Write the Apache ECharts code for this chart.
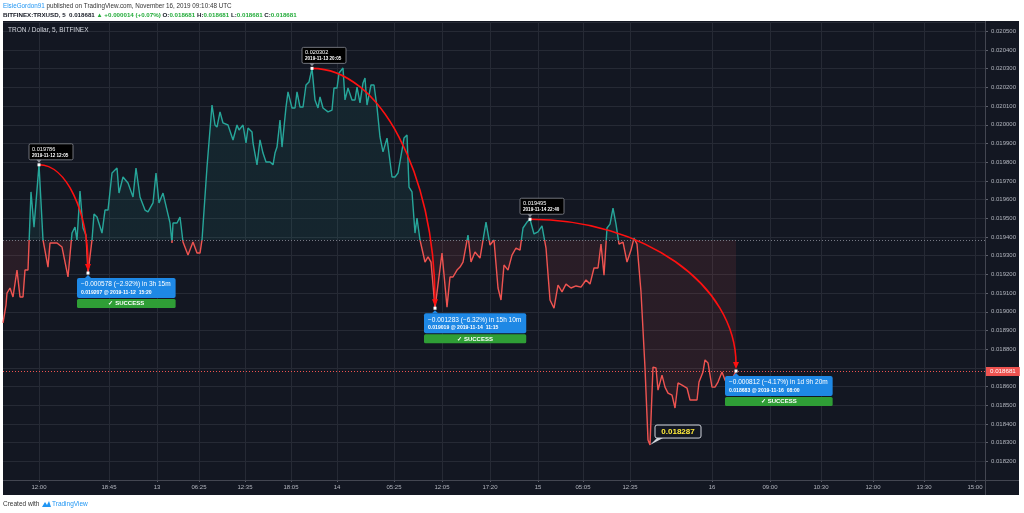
<!DOCTYPE html>
<html><head><meta charset="utf-8">
<script src="https://cdn.jsdelivr.net/npm/echarts@6/dist/echarts.min.js"></script>
<style>html,body{margin:0;padding:0;background:#fff}#c{width:1024px;height:513px}</style>
</head><body><div id="c"></div>
<script>
// ---- data (bar index on the 5-minute axis, price in USD) ----
const barIndex = [0,3,4,7,10,12,14,17,20,22,25,28,31,36,40,45,47,54,59,65,69,72,74,77,80,83,85,89,91,94,99,102,105,109,114,116,120,125,130,133,137,142,145,150,153,156,160,164,167,169,170,174,177,180,185,190,194,197,199,204,209,212,214,217,220,225,230,234,236,240,243,245,249,250,254,257,260,263,267,270,272,274,277,279,283,285,289,292,294,297,300,303,306,309,312,315,317,320,325,329,331,334,336,340,342,345,349,352,354,357,360,362,364,368,371,374,377,380,384,389,392,395,399,401,404,406,409,412,414,417,422,425,428,432,439,444,447,450,454,457,460,465,468,472,477,483,487,491,495,498,501,505,509,513,517,520,524,527,531,535,539,543,547,551,555,559,563,568,573,578,583,587,591,595,598,601,604,607,610,613,616,620,624,628,631,634,638,642,645,647,650,653,655,659,662,665,669,672,675,679,684,687,694,696,700,702,705,709,712,715,719,722,727,730,733];
const price = [0.018940,0.019036,0.019100,0.019127,0.019079,0.019079,0.019223,0.019079,0.019079,0.019223,0.019223,0.019641,0.019453,0.019786,0.019384,0.019239,0.019368,0.019368,0.019346,0.019186,0.019421,0.019453,0.019384,0.019646,0.019448,0.019410,0.019207,0.019384,0.019523,0.019507,0.019421,0.019544,0.019544,0.019742,0.019769,0.019635,0.019721,0.019689,0.019614,0.019769,0.019614,0.019544,0.019534,0.019582,0.019742,0.019582,0.019635,0.019544,0.019475,0.019368,0.019475,0.019475,0.019507,0.019373,0.019303,0.019373,0.019314,0.019314,0.019384,0.019774,0.020106,0.019999,0.019988,0.020069,0.020010,0.019999,0.019919,0.019999,0.019972,0.019999,0.019903,0.019983,0.019962,0.019903,0.019786,0.019919,0.019849,0.019801,0.019801,0.019786,0.019849,0.019881,0.020026,0.019881,0.020095,0.020176,0.020090,0.020090,0.020176,0.020095,0.020095,0.020213,0.020229,0.020302,0.020133,0.020090,0.020149,0.020090,0.020069,0.020079,0.020197,0.020197,0.020277,0.020304,0.020133,0.020197,0.020133,0.020133,0.020202,0.020117,0.020224,0.020250,0.020106,0.020213,0.020213,0.020095,0.019935,0.019855,0.019929,0.019721,0.019721,0.019742,0.019865,0.019929,0.019945,0.019667,0.019641,0.019421,0.019501,0.019384,0.019266,0.019293,0.019266,0.019019,0.019314,0.019025,0.019186,0.019186,0.019223,0.019239,0.019266,0.019410,0.019266,0.019320,0.019287,0.019480,0.019357,0.019384,0.019127,0.019063,0.019250,0.019223,0.019303,0.019341,0.019330,0.019448,0.019480,0.019495,0.019416,0.019427,0.019459,0.019341,0.019063,0.019019,0.019143,0.019106,0.019148,0.019127,0.019138,0.019132,0.019170,0.019148,0.019234,0.019234,0.019362,0.019196,0.019448,0.019469,0.019555,0.019469,0.019362,0.019373,0.019266,0.019330,0.019394,0.019362,0.019106,0.018699,0.018314,0.018287,0.018704,0.018699,0.018581,0.018661,0.018597,0.018565,0.018554,0.018485,0.018619,0.018608,0.018592,0.018528,0.018528,0.018624,0.018678,0.018742,0.018726,0.018597,0.018597,0.018624,0.018678,0.018635,0.018597,0.018651,0.018683];
const tickIndex = [36,106,154,196,242,288,334,391,439,487,535,580,627,709,767,818,870,921,972];
const tickLabels = ['12:00','18:45','13','06:25','12:35','18:05','14','05:25','12:05','17:20','15','05:05','12:35','16','09:00','10:30','12:00','13:30','15:00'];
const BAR_COUNT = 983;
const BASELINE = 0.019385;
const LAST = 0.018681;
// forecast drawings
const fcStartIdx = [36, 309, 527];
const fcStartPrice = [0.019786, 0.020302, 0.019495];
const fcStartTime = ['2019-11-12 12:05', '2019-11-13 20:05', '2019-11-14 22:40'];
const fcEndIdx = [85, 432, 733];
const fcEndPrice = [0.019207, 0.019019, 0.018683];
const fcEndTime = ['2019-11-12  15:20', '2019-11-14  11:15', '2019-11-16  08:00'];
const fcChange = ['\u22120.000578 (\u22122.92%) in 3h 15m', '\u22120.001283 (\u22126.32%) in 15h 10m', '\u22120.000812 (\u22124.17%) in 1d 9h 20m'];
const lowIdx = 647, lowPrice = 0.018287;

// ---- styling ----
const FONT = "'Liberation Sans', Arial, sans-serif";
const BG = '#131722', GRID = '#262a35', AXIS_TXT = '#b2b5be', BORDER = '#434651';
const UP = '#26a69a', DOWN = '#ef5350';
const Y_MIN = 0.0181, Y_MAX = 0.02055;

const cats = new Array(BAR_COUNT).fill('');
tickIndex.forEach((t, i) => cats[t] = tickLabels[i]);
const tickSet = new Set(tickIndex);
const lineData = barIndex.map((b, i) => [b, price[i]]);

const mctx = document.createElement('canvas').getContext('2d');
function tw(txt, font) { mctx.font = font; return mctx.measureText(txt).width; }

function renderForecast(params, api) {
  const i = params.dataIndex;
  const p0 = api.coord([fcStartIdx[i], fcStartPrice[i]]);
  const p1 = api.coord([fcEndIdx[i], fcEndPrice[i]]);
  const k = 0.55;
  const ch = [];
  ch.push({type: 'bezierCurve', shape: {x1: p0[0], y1: p0[1], x2: p1[0], y2: p1[1] - 7,
    cpx1: p0[0] + k * (p1[0] - p0[0]), cpy1: p0[1], cpx2: p1[0], cpy2: p1[1] - 7 - k * (p1[1] - 7 - p0[1])},
    style: {stroke: '#ff1010', lineWidth: 1.6, fill: null}});
  ch.push({type: 'polygon', shape: {points: [[p1[0] - 3, p1[1] - 9], [p1[0] + 3, p1[1] - 9], [p1[0], p1[1] - 2]]}, style: {fill: '#ff1010'}});
  const sx = p0[0] - 10, sy = p0[1] - 21;
  ch.push({type: 'rect', shape: {x: sx, y: sy, width: 44, height: 16, r: 1.5}, style: {fill: '#000000', stroke: '#8a8d96', lineWidth: 0.8}});
  ch.push({type: 'polygon', shape: {points: [[p0[0] - 2.5, sy + 16], [p0[0] + 2.5, sy + 16], [p0[0], sy + 19]]}, style: {fill: '#8a8d96'}});
  ch.push({type: 'text', style: {text: fcStartPrice[i].toFixed(6), x: sx + 3, y: sy + 5.5, fill: '#ffffff', font: '5.6px ' + FONT, textVerticalAlign: 'middle'}});
  ch.push({type: 'text', style: {text: fcStartTime[i], x: sx + 3, y: sy + 11.5, fill: '#ffffff', font: 'bold 4.6px ' + FONT, textVerticalAlign: 'middle'}});
  const f1 = '6.5px ' + FONT, f2 = 'bold 5.1px ' + FONT;
  const line2 = fcEndPrice[i].toFixed(6) + ' @ ' + fcEndTime[i];
  const w = Math.max(tw(fcChange[i], f1), tw(line2, f2)) + 9;
  const bx = p1[0] - 11, by = p1[1] + 5;
  ch.push({type: 'rect', shape: {x: bx, y: by, width: w, height: 20, r: 2}, style: {fill: '#1e88e5'}});
  ch.push({type: 'polygon', shape: {points: [[p1[0] - 3, by], [p1[0] + 3, by], [p1[0], by - 3]]}, style: {fill: '#1e88e5'}});
  ch.push({type: 'text', style: {text: fcChange[i], x: bx + 4, y: by + 6.5, fill: '#ffffff', font: f1, textVerticalAlign: 'middle'}});
  ch.push({type: 'text', style: {text: line2, x: bx + 4, y: by + 14.5, fill: '#ffffff', font: f2, textVerticalAlign: 'middle'}});
  ch.push({type: 'rect', shape: {x: bx, y: by + 21, width: w, height: 9, r: 1.5}, style: {fill: '#2f9e36'}});
  ch.push({type: 'text', style: {text: '\u2713 SUCCESS', x: bx + w / 2, y: by + 25.7, fill: '#ffffff', font: 'bold 6px ' + FONT, textAlign: 'center', textVerticalAlign: 'middle'}});
  ch.push({type: 'rect', shape: {x: p0[0] - 1.5, y: p0[1] - 1.5, width: 3, height: 3}, style: {fill: '#ffffff'}});
  ch.push({type: 'rect', shape: {x: p1[0] - 1.5, y: p1[1] - 1.5, width: 3, height: 3}, style: {fill: '#ffffff'}});
  return {type: 'group', children: ch};
}

function renderLow(params, api) {
  const p = api.coord([lowIdx, lowPrice]);
  const bx = p[0] + 5, by = p[1] - 20;
  return {type: 'group', children: [
    {type: 'polygon', shape: {points: [[p[0], p[1]], [bx + 2, by + 13], [bx + 8, by + 13]]}, style: {fill: '#d1d4dc'}},
    {type: 'rect', shape: {x: bx, y: by, width: 46, height: 13, r: 2}, style: {fill: '#131722', stroke: '#d1d4dc', lineWidth: 1}},
    {type: 'text', style: {text: lowPrice.toFixed(6), x: bx + 23, y: by + 6.8, fill: '#ffeb3b', font: 'bold 8px ' + FONT, textAlign: 'center', textVerticalAlign: 'middle'}}
  ]};
}

const chart = echarts.init(document.getElementById('c'), null, {renderer: 'canvas'});
chart.setOption({
  backgroundColor: '#ffffff',
  animation: false,
  grid: {left: 3, right: 39, top: 22, bottom: 33, containLabel: false},
  graphic: [
    {type: 'rect', z: -10, shape: {x: 3, y: 21, width: 1016, height: 474}, style: {fill: BG}},
    {type: 'line', z: 5, shape: {x1: 985.5, y1: 21, x2: 985.5, y2: 495}, style: {stroke: BORDER, lineWidth: 1}},
    {type: 'line', z: 5, shape: {x1: 3, y1: 480.5, x2: 1019, y2: 480.5}, style: {stroke: BORDER, lineWidth: 1}},
    {type: 'text', x: 8, y: 30, z: 6, style: {text: 'TRON / Dollar, 5, BITFINEX', fill: '#d1d4dc', font: '6.5px ' + FONT, textVerticalAlign: 'middle'}},
    {type: 'text', x: 3, y: 6, style: {text: '{a|ElsieGordon91}{b| published on TradingView.com, November 16, 2019 09:10:48 UTC}', textVerticalAlign: 'middle',
      rich: {a: {fill: '#2196f3', fontSize: 6.3, fontFamily: FONT}, b: {fill: '#333333', fontSize: 6.3, fontFamily: FONT}}}},
    {type: 'text', x: 3, y: 15, style: {text: '{k|BITFINEX:TRXUSD, 5  0.018681 }{g|\u25B2 +0.000014 (+0.07%)}{k| O:}{g|0.018681}{k| H:}{g|0.018681}{k| L:}{g|0.018681}{k| C:}{g|0.018681}', textVerticalAlign: 'middle',
      rich: {k: {fill: '#131722', fontSize: 6.2, fontWeight: 'bold', fontFamily: FONT}, g: {fill: '#22ab39', fontSize: 6.2, fontWeight: 'bold', fontFamily: FONT}}}},
    {type: 'text', x: 3, y: 504, style: {text: 'Created with', fill: '#333333', font: '6.5px ' + FONT, textVerticalAlign: 'middle'}},
    {type: 'text', x: 52, y: 504, style: {text: 'TradingView', fill: '#2196f3', font: '6.5px ' + FONT, textVerticalAlign: 'middle'}},
    {type: 'polygon', shape: {points: [[42, 507], [45, 502], [47, 505], [49, 501], [51, 507]]}, style: {fill: '#2196f3'}}
  ],
  xAxis: {
    type: 'category', data: cats, boundaryGap: false,
    axisLine: {show: false},
    axisTick: {show: true, interval: (i) => tickSet.has(i), length: 2, lineStyle: {color: '#5d606b'}},
    axisLabel: {interval: (i) => tickSet.has(i), color: AXIS_TXT, fontSize: 6, fontFamily: FONT, margin: 4},
    splitLine: {show: true, interval: (i) => tickSet.has(i), lineStyle: {color: GRID, width: 1}}
  },
  yAxis: {
    type: 'value', position: 'right', min: Y_MIN, max: Y_MAX, interval: 0.0001,
    axisLine: {show: false},
    axisTick: {show: true, length: 3, lineStyle: {color: '#5d606b'}},
    axisLabel: {color: AXIS_TXT, fontSize: 6, fontFamily: FONT, margin: 6, showMaxLabel: false, showMinLabel: false,
      formatter: (v) => Math.abs(v - LAST) < 0.00004 ? '' : v.toFixed(6)},
    splitLine: {show: true, lineStyle: {color: GRID, width: 1}}
  },
  visualMap: {type: 'piecewise', show: false, dimension: 1, seriesIndex: 0,
    pieces: [{gte: 0.015, lt: BASELINE, color: DOWN}, {gte: BASELINE, lte: 0.025, color: UP}]},
  series: [
    {type: 'line', data: lineData, symbol: 'none', lineStyle: {width: 1.4}, z: 3,
      areaStyle: {origin: BASELINE, opacity: 0.1}},
    {type: 'line', data: [], symbol: 'none', silent: true, color: '#787b86',
      markLine: {symbol: 'none', silent: true, animation: false, precision: 6,
        lineStyle: {color: '#787b86', type: [1, 2], width: 1}, label: {show: false},
        data: [{yAxis: BASELINE}]}},
    {type: 'line', data: [], symbol: 'none', silent: true, color: DOWN, z: 4,
      markLine: {symbol: 'none', silent: true, animation: false, precision: 6,
        lineStyle: {color: DOWN, type: [1, 2], width: 1, opacity: 1},
        label: {show: true, position: 'end', distance: 1, formatter: LAST.toFixed(6), backgroundColor: DOWN, color: '#ffffff', fontSize: 6.2, fontFamily: FONT, padding: [2, 4, 1, 4]},
        data: [{yAxis: LAST}]}},
    {type: 'custom', renderItem: renderForecast, data: fcStartIdx.map((s, i) => [s, fcStartPrice[i]]), z: 10, clip: false},
    {type: 'custom', renderItem: renderLow, data: [[lowIdx, lowPrice]], z: 10, clip: false}
  ]
});
</script></body></html>
